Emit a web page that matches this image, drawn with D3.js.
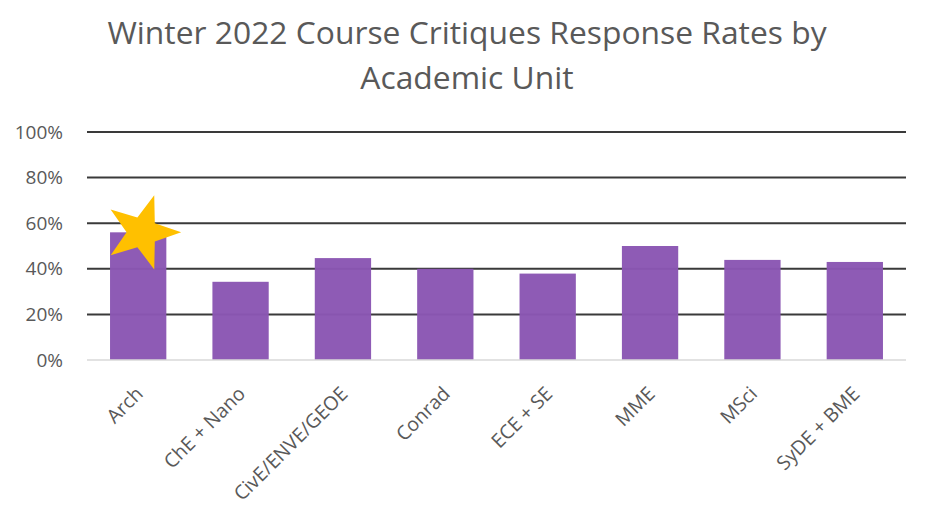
<!DOCTYPE html>
<html><head><meta charset="utf-8">
<script src="https://cdn.jsdelivr.net/npm/d3@7"></script>
<style>html,body{margin:0;padding:0;background:#fff;} svg{display:block;font-family:"Open Sans",sans-serif;}</style>
</head><body>
<svg id="c" width="934" height="520"></svg>
<script>
const titleLines = ["Winter 2022 Course Critiques Response Rates by", "Academic Unit"];
const categories = ["Arch", "ChE + Nano", "CivE/ENVE/GEOE", "Conrad", "ECE + SE", "MME", "MSci", "SyDE + BME"];
const responseRates = [0.56, 0.343, 0.447, 0.40, 0.379, 0.50, 0.439, 0.43];
const yTicks = [0, 0.2, 0.4, 0.6, 0.8, 1.0];
const highlighted = "Arch";

const svg = d3.select("#c");
const W = 934, H = 520;
const m = {left: 87, right: 28, top: 132, bottom: 160};

const x = d3.scaleBand().domain(categories).range([m.left, W - m.right]).paddingInner(0.45).paddingOuter(0.225);
const y = d3.scaleLinear().domain([0, 1]).range([H - m.bottom, m.top]);

// title
const t = svg.append("text").attr("text-anchor", "middle")
  .attr("fill", "#595959").style("font-size", "31.8px");
titleLines.forEach((l, i) => t.append("tspan").attr("x", 467).attr("y", 44 + i*45).text(l));

// gridlines
svg.append("g").selectAll("line").data(yTicks.filter(d => d > 0)).join("line")
  .attr("x1", m.left).attr("x2", W - m.right)
  .attr("y1", d => y(d)).attr("y2", d => y(d))
  .attr("stroke", "#3a3a3a").attr("stroke-width", 2);

// y axis labels
const yAxis = d3.axisLeft(y).tickValues(yTicks).tickFormat(d3.format(".0%")).tickSize(0).tickPadding(24);
const yg = svg.append("g").attr("transform", `translate(${m.left},0)`).call(yAxis);
yg.select(".domain").remove();
yg.selectAll("text").attr("fill", "#595959").style("font-size", "19px").style("font-family", "'Open Sans',sans-serif");

// bars
svg.append("g").selectAll("rect").data(categories).join("rect")
  .attr("x", d => x(d)).attr("width", x.bandwidth())
  .attr("y", (d, i) => y(responseRates[i])).attr("height", (d, i) => y(0) - y(responseRates[i]))
  .attr("fill", "#8a56b3").attr("fill-opacity", 0.97);

// baseline
svg.append("line").attr("x1", m.left).attr("x2", W - m.right).attr("y1", y(0)).attr("y2", y(0))
  .attr("stroke", "#d9d9d9").attr("stroke-width", 1.5);

// x axis labels
const xAxis = d3.axisBottom(x).tickSize(0).tickPadding(0);
const xg = svg.append("g").attr("transform", `translate(0,${y(0)})`).call(xAxis);
xg.select(".domain").remove();
xg.selectAll("text")
  .attr("fill", "#595959").style("font-size", "19.5px").style("font-family", "'Open Sans',sans-serif")
  .attr("text-anchor", "end").attr("dy", null).attr("y", 0)
  .attr("transform", "translate(6,35) rotate(-45)");

// star annotation on highlighted bar
const hi = categories.indexOf(highlighted);
const cx = x(highlighted) + x.bandwidth()/2 + 4, cy = y(responseRates[hi]);
const R = 39, r = R * 0.4;
const pts = [];
for (let k = 0; k < 10; k++) {
  const a = (k * 36) * Math.PI / 180;
  const rr = k % 2 === 0 ? R : r;
  pts.push([cx + rr * Math.cos(a), cy + rr * Math.sin(a)]);
}
svg.append("polygon").attr("points", pts.map(p => p.join(",")).join(" ")).attr("fill", "#ffc000");
</script>
</body></html>
